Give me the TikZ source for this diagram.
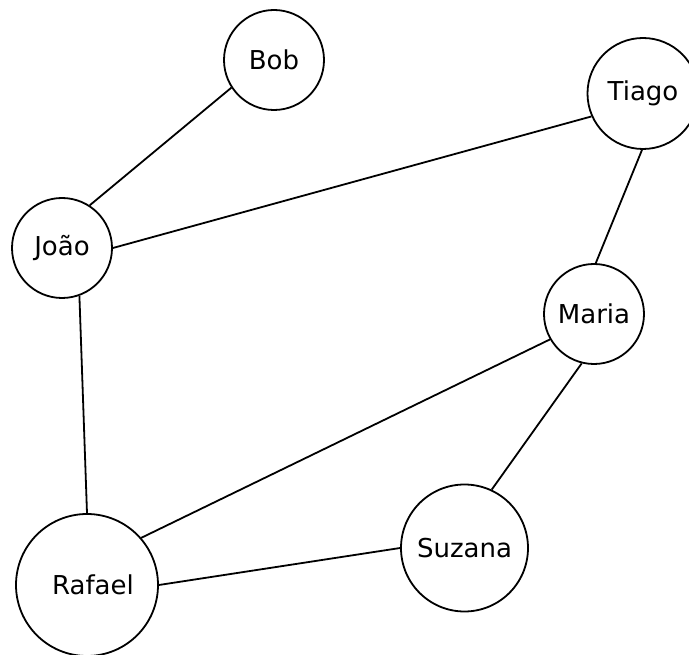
\documentclass[tikz,border=0pt]{standalone}
\usepackage{fontspec}
\setmainfont{DejaVu Sans}
\begin{document}
\begin{tikzpicture}[x=1pt,y=-1pt,
  vertex/.style={circle,draw,line width=1.8pt,inner sep=0pt,font=\fontsize{26}{30}\selectfont},
  edge/.style={line width=1.8pt}]
\useasboundingbox (0,0) rectangle (689,655);
% people
\node[vertex,minimum size=100pt] (bob)    at (274,60)    {Bob};
\node[vertex,minimum size=111pt] (tiago)  at (643,93.5)  {Tiago};
\node[vertex,minimum size=100pt] (joao)   at (62,248)    {João};
\node[vertex,minimum size=100pt] (maria)  at (594,314)   {Maria};
\node[vertex,minimum size=127pt] (suzana) at (464.5,548) {Suzana};
\node[vertex,minimum size=142pt] (rafael) at (87,585)    {\hspace*{12pt}Rafael};
% friendships
\draw[edge] (bob.213.7) -- (joao.57.3);
\draw[edge] (joao.0) -- (tiago.204);
\draw[edge] (tiago.269) -- (maria.88);
\draw[edge] (maria.210) -- (rafael.41);
\draw[edge] (maria.256) -- (suzana.65);
\draw[edge] (rafael.0) -- (suzana.180);
\draw[edge] (joao.290) -- (rafael.90);
\end{tikzpicture}
\end{document}
